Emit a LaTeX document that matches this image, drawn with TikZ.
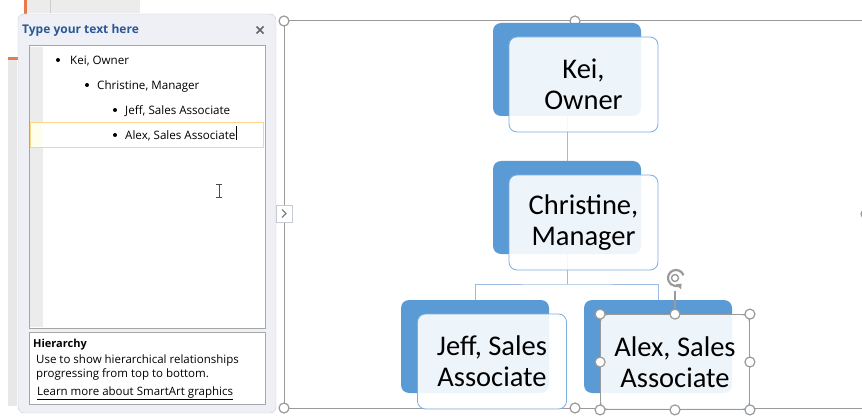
\documentclass[tikz,border=0pt]{standalone}
\usepackage{fontspec}
\setmainfont{Carlito}
\newfontfamily\uifont{Open Sans}
\usetikzlibrary{positioning,arrows.meta}
\definecolor{backblue}{HTML}{5B9BD5}
\definecolor{frontline}{HTML}{7AAEE0}
\definecolor{linkblue}{HTML}{9DBBE0}
\definecolor{handlegray}{HTML}{9A9A9A}
\definecolor{panefill}{HTML}{EEF0F5}
\definecolor{panebord}{HTML}{C6CAD2}
\definecolor{boxgray}{HTML}{A6A6A6}
\definecolor{titleblue}{HTML}{2B5797}
\definecolor{hilite}{HTML}{FAD58A}
\definecolor{sideorange}{HTML}{E9784F}
\tikzset{
  backbox/.style={fill=backblue, rounded corners=8pt, minimum width=148pt,
    minimum height=93pt, inner sep=0pt},
  frontbox/.style={draw=frontline, line width=0.8pt, fill=white, fill opacity=0.9,
    text opacity=1, rounded corners=8pt, minimum width=149pt, minimum height=95pt,
    inner sep=0pt, align=center, font=\fontsize{28.5}{31}\selectfont},
  link/.style={draw=linkblue, line width=1pt},
  handle/.style={circle, draw=handlegray, fill=white, line width=1.2pt,
    minimum size=10pt, inner sep=0pt},
  paneitem/.style={font=\uifont\fontsize{11.6}{13}\selectfont, anchor=base west, inner sep=0pt},
  panedesc/.style={paneitem, font=\uifont\fontsize{11.5}{13}\selectfont},
  dot/.style={circle, fill=black, minimum size=4pt, inner sep=0pt},
}
\begin{document}
\begin{tikzpicture}[x=1pt,y=-1pt]
  \useasboundingbox (0,0) rectangle (862,417);
  \clip (0,0) rectangle (862,417);

  % window behind the pane
  \fill[gray!15] (27,0) rectangle (140,13);
  \draw[gray!40] (50,0) -- (50,13);
  \fill[sideorange] (24,0) rectangle (27,14);
  \fill[gray!18] (8,58) rectangle (17,406);
  \fill[sideorange] (8,57) rectangle (18,60);

  % smartart frame
  \draw[handlegray, line width=1pt] (284,21) rectangle (866,408);
  \node[handle] (h1) at (284,21) {};
  \node[handle] (h2) at (575,21) {};
  \node[handle] (h3) at (284,408) {};
  \node[handle] (h4) at (575,408) {};
  \node[handle] (h5) at (866,214) {};

  % text pane
  \draw[panebord, fill=panefill, rounded corners=6pt] (18,14) rectangle (276,413);
  \node[font=\uifont\bfseries\fontsize{12}{13}\selectfont, text=titleblue, anchor=west,
    inner sep=0pt] (title) at (22,30) {Type your text here};
  \coordinate (close) at (260,30);
  \draw[gray!80!black, line width=1.6pt] ([shift={(-3.5,-3.5)}]close) -- ([shift={(3.5,3.5)}]close)
    ([shift={(-3.5,3.5)}]close) -- ([shift={(3.5,-3.5)}]close);
  \draw[boxgray, line width=1pt, fill=white] (29,46) rectangle (265,328);
  \fill[gray!15] (30,47) rectangle (43,327);
  \draw[hilite, line width=1pt, fill=white] (30,123) rectangle (263,148);
  \fill[yellow!8] (30.5,123.5) rectangle (42,147.5);

  \node[dot] (b1) at (58,60) {};
  \node[paneitem] (t1) at (70,65) {Kei, Owner};
  \node[dot] (b2) at (87,85) {};
  \node[paneitem] (t2) at (97,90) {Christine, Manager};
  \node[dot] (b3) at (115,110) {};
  \node[paneitem] (t3) at (125,115) {Jeff, Sales Associate};
  \node[dot] (b4) at (115,135) {};
  \node[paneitem] (t4) at (125,140) {Alex, Sales Associate};
  \draw[black, line width=0.8pt] (t4.east) ++(1,4) -- ++(0,-14);

  % i-beam
  \draw[gray!60!black, line width=1pt] (216,184) -- (222,184) (219,184) -- (219,197) (216,197) -- (222,197);

  % description box
  \draw[boxgray, line width=1pt, fill=white] (29,332) rectangle (265,404);
  \node[panedesc, font=\uifont\bfseries\fontsize{11}{13}\selectfont] (hier) at (33,347) {Hierarchy};
  \node[panedesc] (d1) at (36,363) {Use to show hierarchical relationships};
  \node[panedesc] (d2) at (36,377) {progressing from top to bottom.};
  \node[panedesc] (d3) at (37,395) {\underline{Learn more about SmartArt graphics}};

  % collapse tab
  \draw[panebord, fill=white] (276,205) rectangle (292,222);
  \draw[gray, line width=1.2pt] (282,209.5) -- (286,213.5) -- (282,217.5);

  % back boxes
  \node[backbox] (keiB) at (567,69.5) {};
  \node[backbox] (chrB) at (567,207.5) {};
  \node[backbox] (jefB) at (475,346.5) {};
  \node[backbox] (alxB) at (658,346.5) {};

  % connectors
  \coordinate (fork) at (567,284);
  \draw[link] (keiB.south) -- (chrB.north);
  \draw[link] (chrB.south) -- (fork);
  \draw[link] (jefB.north) |- (fork) -| (alxB.north);

  % front boxes
  \node[frontbox] (keiF) at (keiB) [xshift=16.5pt, yshift=-15pt] {Kei,\\Owner};
  \node[frontbox] (chrF) at (chrB) [xshift=16.5pt, yshift=-15pt] {Christine,\\Manager};
  \node[frontbox] (jefF) at (jefB) [xshift=17pt, yshift=-15pt] {Jeff, Sales\\Associate};
  \node[frontbox] (alxF) at (alxB) [xshift=17pt, yshift=-15.5pt] {Alex, Sales\\Associate};

  % selection around alex
  \draw[handlegray, line width=1pt] (alxF.north west) rectangle (alxF.south east);
  \draw[handlegray, line width=1.2pt] (alxF.north) -- ++(0,-23) coordinate (rot);
  \coordinate (ricon) at (676,278);
  \draw[handlegray, line width=2.2pt, -{Triangle[length=4.5pt,width=7pt]}]
    ([shift={(-20:8)}]ricon) arc[start angle=-20, end angle=-315, radius=8];
  \draw[handlegray, line width=1.4pt] ([xshift=-1pt]ricon) circle[radius=3.5];
  \foreach \a in {north west,north,north east,west,east,south west,south,south east}
    \node[handle] at (alxF.\a) {};
\end{tikzpicture}
\end{document}
